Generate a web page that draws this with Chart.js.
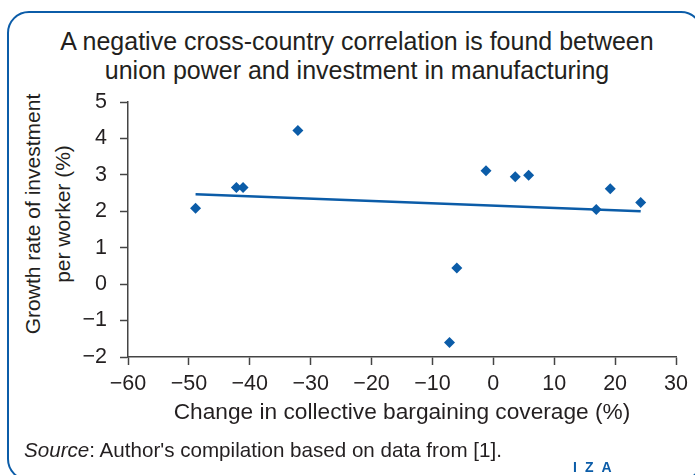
<!DOCTYPE html>
<html>
<head>
<meta charset="utf-8">
<script src="https://cdn.jsdelivr.net/npm/chart.js@4.4.1/dist/chart.umd.min.js"></script>
<style>
    html, body { margin: 0; padding: 0; background: #fff; }
    body { width: 695px; height: 475px; position: relative; overflow: hidden;
           font-family: "Liberation Sans", Arial, sans-serif; color: #231f20; }
    #frame { position: absolute; left: 7px; top: 11px; width: 692px; height: 466px;
             border: 2.5px solid #0b5ca8; border-radius: 22px; }
    #title { position: absolute; left: 0; width: 714px; top: 27px; text-align: center;
             font-size: 25px; line-height: 29px; }
    #ytitle { position: absolute; width: 320px; height: 60px; left: -112px; top: 184px;
              text-align: center; font-size: 21px; line-height: 30px; transform: rotate(-90deg); }
    #source { position: absolute; left: 24px; top: 438px; font-size: 20.6px; }
    #iza { position: absolute; left: 573px; top: 459px; font-size: 14px; font-weight: bold;
           color: #0b5ca8; letter-spacing: 8px; }
    #wrap { position: absolute; left: 0; top: 0; width: 695px; height: 475px; }
</style>
</head>
<body>
<div id="frame"></div>
<div id="title">A negative cross-country correlation is found between<br>union power and investment in manufacturing</div>
<div id="ytitle">Growth rate of investment<br>per worker (%)</div>
<div id="wrap"><canvas id="chart"></canvas></div>
<div id="source"><i>Source</i>: Author's compilation based on data from [1].</div>
<div id="iza">IZA</div>

<script>
// Change in bargaining coverage (%) vs growth of investment per worker (%)
const coverageChange = [-48.9, -42.2, -41.1, -32.1, -1.2, 3.6, 5.8, 16.9, 19.2, 24.2, -6.0, -7.2];
const investGrowth = [2.08, 2.65, 2.65, 4.22, 3.11, 2.95, 2.99, 2.05, 2.62, 2.24, 0.44, -1.6];

// Fitted line end points
const fitX = [-48.9, 24.2];
const fitY = [2.47, 2.0];

const blue = '#0b5ca8';
const ink = '#231f20';

function minus(v) {
    return String(v).replace('-', '\u2212');
}

const ctx = document.getElementById('chart');
new Chart(ctx, {
    type: 'scatter',
    data: {
        datasets: [
            {
                label: 'Countries',
                data: coverageChange.map((x, i) => ({ x: x, y: investGrowth[i] })),
                pointStyle: 'rectRot',
                pointRadius: 5.5,
                backgroundColor: blue,
                borderColor: blue,
                borderWidth: 0,
                order: 0
            },
            {
                label: 'Fit',
                type: 'line',
                data: fitX.map((x, i) => ({ x: x, y: fitY[i] })),
                borderColor: blue,
                borderWidth: 2.5,
                pointRadius: 0,
                fill: false,
                order: 1
            }
        ]
    },
    options: {
        responsive: true,
        maintainAspectRatio: false,
        animation: false,
        layout: {
            padding: { left: 0, top: 102, right: 19, bottom: 46 }
        },
        plugins: {
            legend: { display: false },
            tooltip: { enabled: false }
        },
        scales: {
            x: {
                type: 'linear',
                min: -60,
                max: 30,
                afterFit: function(s) { s.height = 72; },
                grid: {
                    drawOnChartArea: false,
                    drawTicks: true,
                    tickLength: 8,
                    tickColor: '#444',
                    tickWidth: 1.5
                },
                border: { color: '#444', width: 1.5 },
                ticks: {
                    stepSize: 10,
                    padding: 6,
                    color: ink,
                    font: { family: 'Liberation Sans', size: 21.5 },
                    callback: v => minus(v)
                },
                title: {
                    display: true,
                    text: 'Change in collective bargaining coverage (%)',
                    color: ink,
                    font: { family: 'Liberation Sans', size: 22.7 },
                    padding: { top: 0, bottom: 3 }
                }
            },
            y: {
                type: 'linear',
                min: -2,
                max: 5,
                afterFit: function(s) { s.width = 128; },
                grid: {
                    drawOnChartArea: false,
                    drawTicks: true,
                    tickLength: 8,
                    tickColor: '#444',
                    tickWidth: 1.5
                },
                border: { color: '#444', width: 1.5 },
                ticks: {
                    stepSize: 1,
                    padding: 13,
                    color: ink,
                    font: { family: 'Liberation Sans', size: 21.5 },
                    callback: v => minus(v)
                }
            }
        }
    }
});
</script>
</body>
</html>
